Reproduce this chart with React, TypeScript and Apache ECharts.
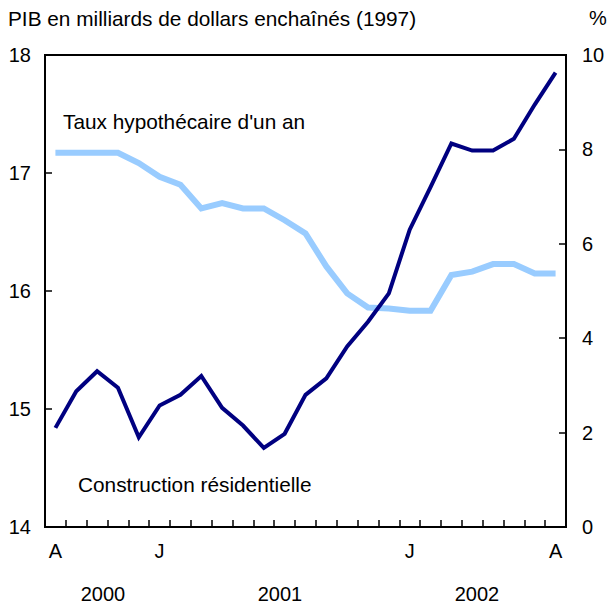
import React, { useEffect, useRef } from "react";
import * as echarts from "echarts";

const months = ["A","S","O","N","D","J","F","M","A","M","J","J","A","S","O","N","D","J","F","M","A","M","J","J","A"];
const shownMonthIdx = [0, 5, 17, 24];
const construction = [14.84,15.15,15.32,15.18,14.76,15.03,15.12,15.28,15.01,14.86,14.67,14.79,15.12,15.26,15.53,15.74,15.98,16.52,16.88,17.25,17.19,17.19,17.29,17.58,17.85];
const taux = [7.93,7.93,7.93,7.93,7.71,7.42,7.25,6.75,6.86,6.75,6.75,6.5,6.22,5.52,4.95,4.65,4.63,4.58,4.58,5.34,5.41,5.57,5.57,5.37,5.37];
const years = ["2000", "2001", "2002"];
const yearX = [103, 280, 477];
const leftTicks = { min: 14, max: 18, interval: 1 };
const rightTicks = { min: 0, max: 10, interval: 2 };

const FONT = "'Liberation Sans', Arial, sans-serif";
const FS = 20;
const FS_TEXT = 20.8;

export default function App() {
  const ref = useRef<HTMLDivElement>(null);
  useEffect(() => {
    document.body.style.margin = "0";
    if (!ref.current) return;
    const chart = echarts.init(ref.current, null, { renderer: "svg" });
    const axisText = { color: "#000", fontSize: FS, fontFamily: FONT };
    chart.setOption({
      animation: false,
      textStyle: { fontFamily: FONT },
      grid: { left: 45, right: 42, top: 55, bottom: 79, show: true, borderColor: "#000", borderWidth: 2, backgroundColor: "transparent" },
      xAxis: {
        type: "category",
        data: months,
        boundaryGap: true,
        axisLine: { show: true, lineStyle: { color: "#000", width: 2 } },
        axisTick: { show: true, inside: true, length: 7, interval: 0, lineStyle: { color: "#000", width: 1.5 } },
        axisLabel: {
          ...axisText,
          margin: 14,
          interval: (idx: number) => shownMonthIdx.includes(idx),
        },
        splitLine: { show: false },
      },
      yAxis: [
        {
          type: "value",
          position: "left",
          ...leftTicks,
          axisLine: { show: true, lineStyle: { color: "#000", width: 2 } },
          axisTick: { show: true, inside: true, length: 7, lineStyle: { color: "#000", width: 1.5 } },
          axisLabel: { ...axisText, margin: 14 },
          splitLine: { show: false },
        },
        {
          type: "value",
          position: "right",
          ...rightTicks,
          axisLine: { show: true, lineStyle: { color: "#000", width: 2 } },
          axisTick: { show: true, inside: true, length: 7, lineStyle: { color: "#000", width: 1.5 } },
          axisLabel: { ...axisText, margin: 16 },
          splitLine: { show: false },
        },
      ],
      series: [
        {
          name: "Taux hypothécaire d'un an",
          type: "line",
          yAxisIndex: 1,
          data: taux,
          symbol: "none",
          lineStyle: { color: "#99ccff", width: 6, join: "miter" },
          z: 2,
        },
        {
          name: "Construction résidentielle",
          type: "line",
          yAxisIndex: 0,
          data: construction,
          symbol: "none",
          lineStyle: { color: "#000080", width: 4, join: "miter" },
          z: 3,
        },
      ],
      graphic: [
        { type: "text", x: 8, y: 18, style: { text: "PIB en milliards de dollars enchaînés (1997)", fill: "#000", font: `${FS_TEXT}px ${FONT}`, textVerticalAlign: "middle" } },
        { type: "text", x: 589, y: 18, style: { text: "%", fill: "#000", font: `${FS}px ${FONT}`, textVerticalAlign: "middle" } },
        { type: "text", x: 63, y: 121, style: { text: "Taux hypothécaire d'un an", fill: "#000", font: `${FS_TEXT}px ${FONT}`, textVerticalAlign: "middle" } },
        { type: "text", x: 78, y: 484, style: { text: "Construction résidentielle", fill: "#000", font: `${FS_TEXT}px ${FONT}`, textVerticalAlign: "middle" } },
        ...years.map((y, i) => ({
          type: "text",
          x: yearX[i],
          y: 594,
          style: { text: y, fill: "#000", font: `${FS}px ${FONT}`, textAlign: "center", textVerticalAlign: "middle" },
        })),
      ],
    });
    return () => chart.dispose();
  }, []);
  return <div ref={ref} style={{ width: 608, height: 606 }} />;
}
